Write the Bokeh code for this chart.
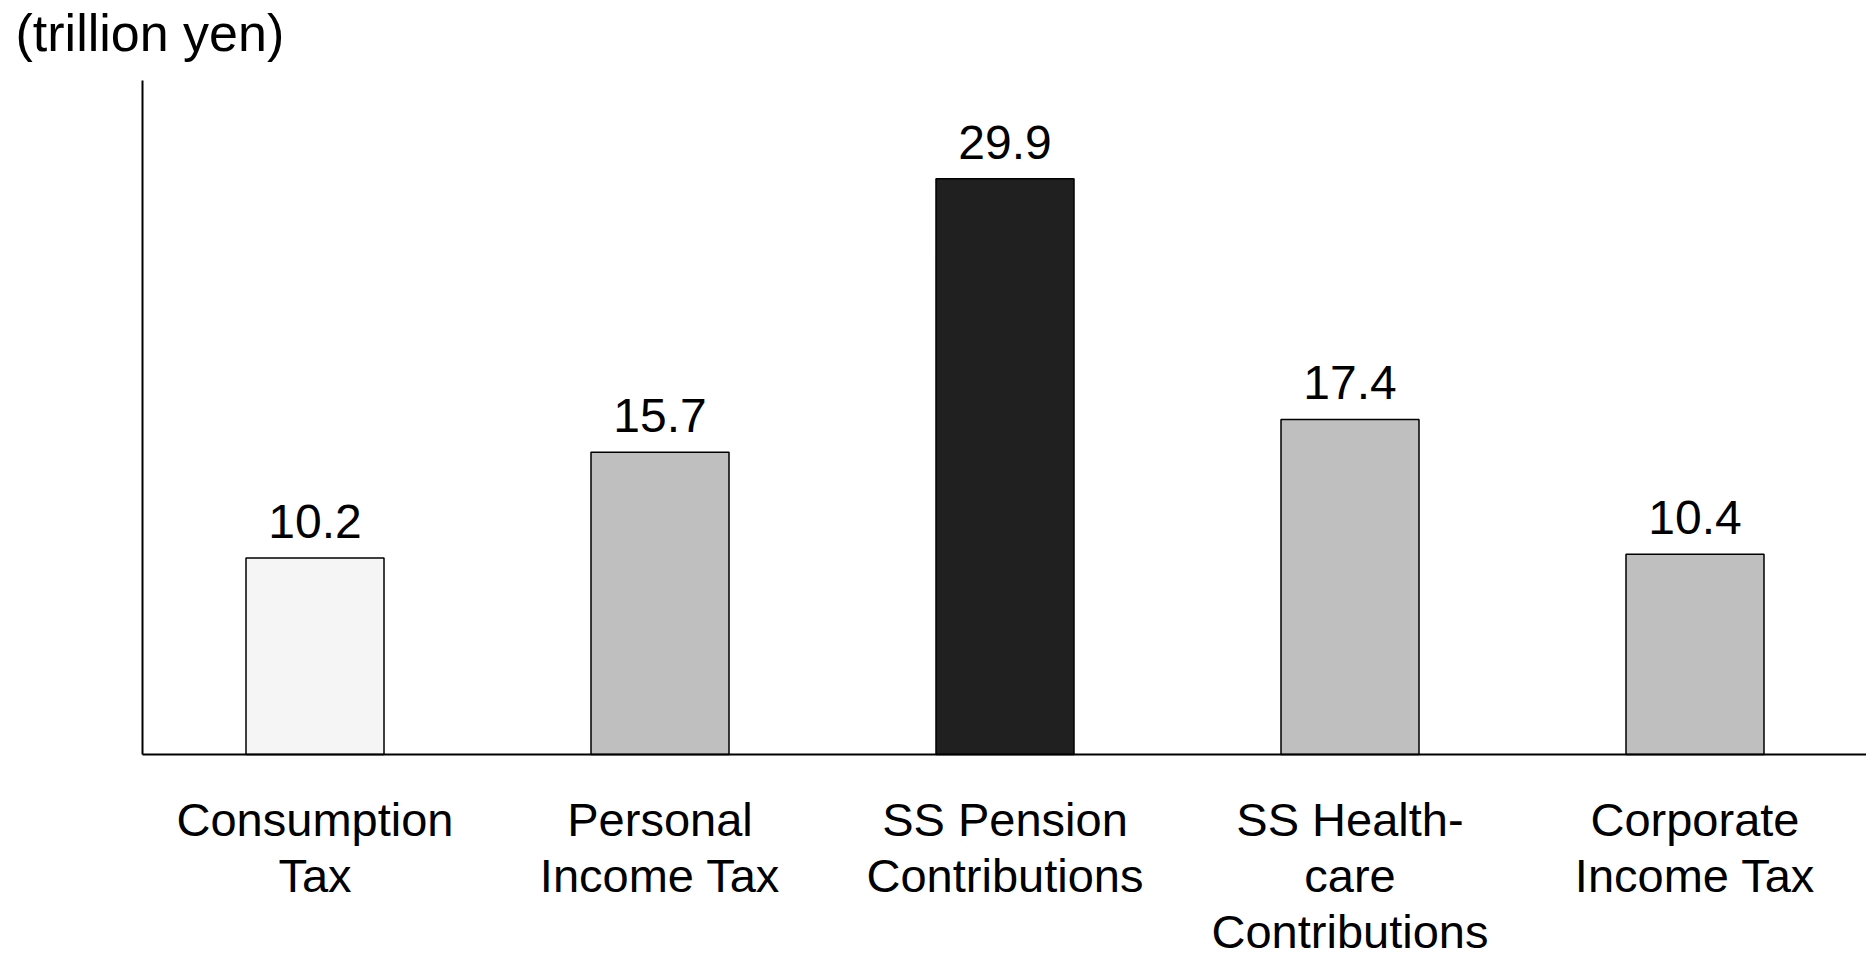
from bokeh.plotting import figure
from bokeh.models import ColumnDataSource, LabelSet, Label, Range1d
from bokeh.core.properties import value
from bokeh.embed import file_html
from bokeh.resources import INLINE

categories = [
    "Consumption\nTax",
    "Personal\nIncome Tax",
    "SS Pension\nContributions",
    "SS Health-\ncare\nContributions",
    "Corporate\nIncome Tax",
]
values = [10.2, 15.7, 29.9, 17.4, 10.4]
value_labels = ["10.2", "15.7", "29.9", "17.4", "10.4"]
fill_colors = ["#f5f5f5", "#bfbfbf", "#202020", "#bfbfbf", "#bfbfbf"]
unit_label = "(trillion yen)"
y_max = 35

positions = list(range(1, len(categories) + 1))

W, H = 1866, 953
BASELINE_PX = 754     # vertical position of the zero line
AXIS_LEFT_PX = 142    # where the value axis sits
AXIS_TOP_PX = 80      # where the value axis ends
SLOT_PX = 345         # width of one category slot
FIRST_LINE_PX = 81    # first category text baseline below the zero line
LINE_STEP_PX = 56     # spacing between category text lines

y_per_px = y_max / (BASELINE_PX - AXIS_TOP_PX)
x_start = 0.5 - AXIS_LEFT_PX / SLOT_PX
x_end = x_start + W / SLOT_PX
y_start = -(H - BASELINE_PX) * y_per_px
y_end = BASELINE_PX * y_per_px

source = ColumnDataSource(dict(x=positions, val=values, lab=value_labels, color=fill_colors))

p = figure(
    x_range=Range1d(x_start, x_end),
    y_range=Range1d(y_start, y_end),
    width=W, height=H,
    output_backend="svg", toolbar_location=None,
    x_axis_location=None, y_axis_location=None,
    min_border=0,
)

p.vbar(x="x", top="val", width=0.4, source=source,
       fill_color="color", line_color="black", line_width=1.5)

# value labels above the bars
p.add_layout(LabelSet(x="x", y="val", text="lab", source=source,
                      y_offset=20, text_align="center", text_baseline="bottom",
                      text_font=value("Liberation Sans"), text_font_size=value("48px"),
                      text_color="black"))

# category names under the baseline, one centred row per text line
split_names = [c.split("\n") for c in categories]
n_rows = max(len(s) for s in split_names)
for row in range(n_rows):
    row_text = [s[row] if row < len(s) else "" for s in split_names]
    row_src = ColumnDataSource(dict(x=positions, y=[0] * len(positions), t=row_text))
    p.add_layout(LabelSet(x="x", y="y", text="t", source=row_src,
                          y_offset=-(FIRST_LINE_PX + row * LINE_STEP_PX),
                          text_align="center", text_baseline="alphabetic",
                          text_font=value("Liberation Sans"), text_font_size=value("47px"),
                          text_color="black"))

# axis lines: value axis on the left, baseline along zero
p.segment(x0=[0.5, 0.5], y0=[0, 0], x1=[0.5, x_end], y1=[y_max, 0],
          line_color="black", line_width=2)

# unit caption at the top-left
p.add_layout(Label(x=0.5 - 127 / SLOT_PX, y=y_max + 48 * y_per_px, text=unit_label,
                   text_align="left", text_baseline="alphabetic",
                   text_font="Liberation Sans", text_font_size="52px",
                   text_color="black"))

p.outline_line_color = None
p.grid.visible = False
p.background_fill_color = "white"
p.border_fill_color = "white"

open("out.html", "w").write(file_html(p, INLINE))
